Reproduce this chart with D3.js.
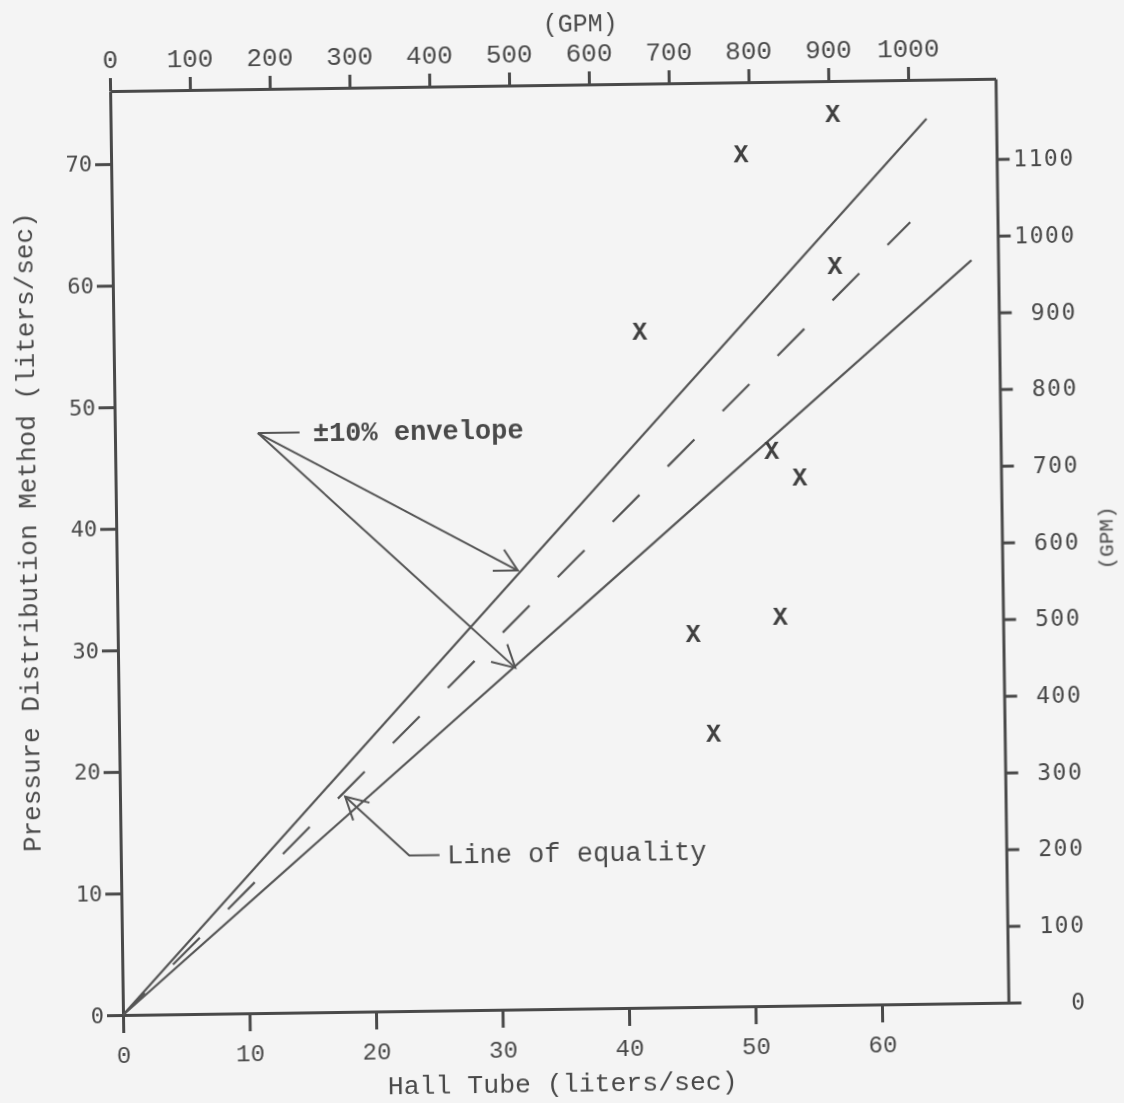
<!DOCTYPE html>
<html>
<head>
<meta charset="utf-8">
<script src="https://cdn.jsdelivr.net/npm/d3@7"></script>
<style>
body { margin: 0; background: #f4f4f4; }
svg { display: block; }
.axis path, .axis line { stroke: #4a4a4a; stroke-width: 3; }
.axis text { fill: #4a4a4a; }
.ref { fill: none; stroke: #555; stroke-width: 2.2; }
.lead { fill: none; stroke: #555; stroke-width: 2; }
.note { fill: #4a4a4a; font-family: "Liberation Mono", monospace; font-size: 27px; }
</style>
</head>
<body>
<svg></svg>
<script>
// flow readings, liters/sec
var hallTube = [57.1, 49.8, 57.1, 41.6, 51.9, 54.1, 52.4, 45.5, 47.0];
var pressureDist = [73.4, 70.2, 60.9, 55.7, 45.7, 43.5, 32.1, 30.8, 22.5];

// hand drawn reference lines [hall tube, pressure]
var equalityLine = [[0, 0], [63.1, 64.3]];
var upperEnvelope = [[0, 0], [64.5, 72.8]];
var lowerEnvelope = [[0, 0], [67.9, 61.1]];

var lpsTicks = [0, 10, 20, 30, 40, 50, 60];
var pressureTicks = [0, 10, 20, 30, 40, 50, 60, 70];
var gpmTopTicks = [0, 100, 200, 300, 400, 500, 600, 700, 800, 900, 1000];
var gpmRightTicks = [0, 100, 200, 300, 400, 500, 600, 700, 800, 900, 1000, 1100];

var GPM_PER_LPS = 15.85;

drawChart();

function drawChart() {
    var svgWidth = 1124, svgHeight = 1103;
    var margin = { top: 91, right: 115.5, bottom: 88, left: 123 };
    var width = svgWidth - margin.left - margin.right;
    var height = svgHeight - margin.top - margin.bottom;
    var plain = d3.format("d");

    var svg = d3.select("svg")
        .attr("width", svgWidth)
        .attr("height", svgHeight);

    var defs = svg.append("defs");
    defs.append("filter").attr("id", "scan")
        .append("feGaussianBlur").attr("stdDeviation", 0.6);
    defs.append("marker")
        .attr("id", "vhead")
        .attr("viewBox", "-26 -14 30 28")
        .attr("refX", 0).attr("refY", 0)
        .attr("markerWidth", 30).attr("markerHeight", 28)
        .attr("markerUnits", "userSpaceOnUse")
        .attr("orient", "auto")
        .append("path")
        .attr("d", "M-22,-12L0,0L-22,12")
        .attr("fill", "none")
        .attr("stroke", "#555")
        .attr("stroke-width", 2);

    // the scanned sheet sits slightly tilted
    var g = svg.append("g")
        .attr("filter", "url(#scan)")
        .attr("transform", "translate(" + margin.left + "," + margin.top + ") rotate(-0.8, 0, " + height + ")");

    var x = d3.scaleLinear().domain([0, 70]).range([0, width]);
    var y = d3.scaleLinear().domain([0, 76]).range([height, 0]);
    var xGpm = d3.scaleLinear().domain([0, 70 * GPM_PER_LPS]).range([0, width]);
    var yGpm = d3.scaleLinear().domain([0, 76 * GPM_PER_LPS]).range([height, 0]);

    var bottom = g.append("g")
        .attr("class", "axis")
        .attr("transform", "translate(0," + height + ")")
        .call(d3.axisBottom(x).tickValues(lpsTicks).tickFormat(plain).tickSize(18).tickPadding(13).tickSizeOuter(0));
    bottom.selectAll("text")
        .style("font-family", "Liberation Mono, monospace")
        .style("font-size", "24px");

    var left = g.append("g")
        .attr("class", "axis")
        .call(d3.axisLeft(y).tickValues(pressureTicks).tickFormat(plain).tickSize(16).tickPadding(3).tickSizeOuter(0));
    left.selectAll("text")
        .style("font-family", "DejaVu Sans Mono, monospace")
        .style("font-size", "22px");

    var top = g.append("g")
        .attr("class", "axis")
        .call(d3.axisTop(xGpm).tickValues(gpmTopTicks).tickFormat(plain).tickSize(13).tickPadding(10).tickSizeOuter(0));
    top.selectAll("text")
        .style("font-family", "Liberation Mono, monospace")
        .style("font-size", "26px");

    var right = g.append("g")
        .attr("class", "axis")
        .attr("transform", "translate(" + width + ",0)")
        .call(d3.axisRight(yGpm).tickValues(gpmRightTicks).tickFormat(plain).tickSize(13).tickSizeOuter(0));
    right.selectAll("text")
        .attr("x", 78)
        .attr("text-anchor", "end")
        .style("font-family", "DejaVu Sans Mono, monospace")
        .style("font-size", "23px")
        .style("letter-spacing", "1.5px");

    // axis titles
    g.append("text")
        .attr("class", "note")
        .attr("x", width / 2 - 4)
        .attr("y", height + 83)
        .attr("text-anchor", "middle")
        .style("font-size", "26.5px")
        .text("Hall Tube (liters/sec)");

    g.append("text")
        .attr("class", "note")
        .attr("transform", "translate(-89," + (height / 2 - 22) + ") rotate(-90)")
        .attr("dy", "0.35em")
        .attr("text-anchor", "middle")
        .style("font-size", "26px")
        .text("Pressure Distribution Method (liters/sec)");

    g.append("text")
        .attr("class", "note")
        .attr("x", xGpm(590))
        .attr("y", -53)
        .attr("text-anchor", "middle")
        .style("font-size", "25px")
        .text("(GPM)");

    g.append("text")
        .attr("class", "note")
        .attr("transform", "translate(" + (width + 104) + "," + yGpm(604) + ") rotate(-90)")
        .attr("dy", "0.35em")
        .attr("text-anchor", "middle")
        .style("font-size", "21px")
        .text("(GPM)");

    var line = d3.line()
        .x(function(d) { return x(d[0]); })
        .y(function(d) { return y(d[1]); });

    g.append("path").datum(upperEnvelope).attr("class", "ref").attr("d", line);
    g.append("path").datum(lowerEnvelope).attr("class", "ref").attr("d", line);
    g.append("path").datum(equalityLine)
        .attr("class", "ref")
        .attr("stroke-width", 2.6)
        .attr("stroke-dasharray", "38,40")
        .attr("stroke-dashoffset", 7)
        .attr("d", line);

    // data points, typed x marks
    g.selectAll(".pt")
        .data(hallTube)
        .enter()
        .append("text")
        .attr("class", "pt")
        .attr("x", function(d) { return x(d); })
        .attr("y", function(d, i) { return y(pressureDist[i]); })
        .attr("dy", "0.36em")
        .attr("text-anchor", "middle")
        .attr("fill", "#3f3f3f")
        .style("font-family", "Liberation Mono, monospace")
        .style("font-weight", "bold")
        .style("font-size", "25px")
        .text("X");

    // +-10% envelope callout
    g.append("path")
        .attr("class", "lead")
        .attr("d", line([[14.6, 47.7], [11.3, 47.7]]));
    g.append("path")
        .attr("class", "lead")
        .attr("marker-end", "url(#vhead)")
        .attr("d", line([[11.3, 47.7], [31.7, 36.1]]));
    g.append("path")
        .attr("class", "lead")
        .attr("marker-end", "url(#vhead)")
        .attr("d", line([[11.3, 47.7], [31.4, 28.1]]));
    g.append("text")
        .attr("class", "note")
        .attr("x", x(15.65))
        .attr("y", y(47.7))
        .attr("dy", "0.33em")
        .style("font-weight", "bold")
        .text("\u00b110% envelope");

    // line of equality callout
    g.append("path")
        .attr("class", "lead")
        .attr("marker-end", "url(#vhead)")
        .attr("d", line([[25.2, 12.8], [22.8, 12.8], [17.8, 17.7]]));
    g.append("text")
        .attr("class", "note")
        .attr("x", x(25.8))
        .attr("y", y(12.8))
        .attr("dy", "0.33em")
        .text("Line of equality");
}
</script>
</body>
</html>
